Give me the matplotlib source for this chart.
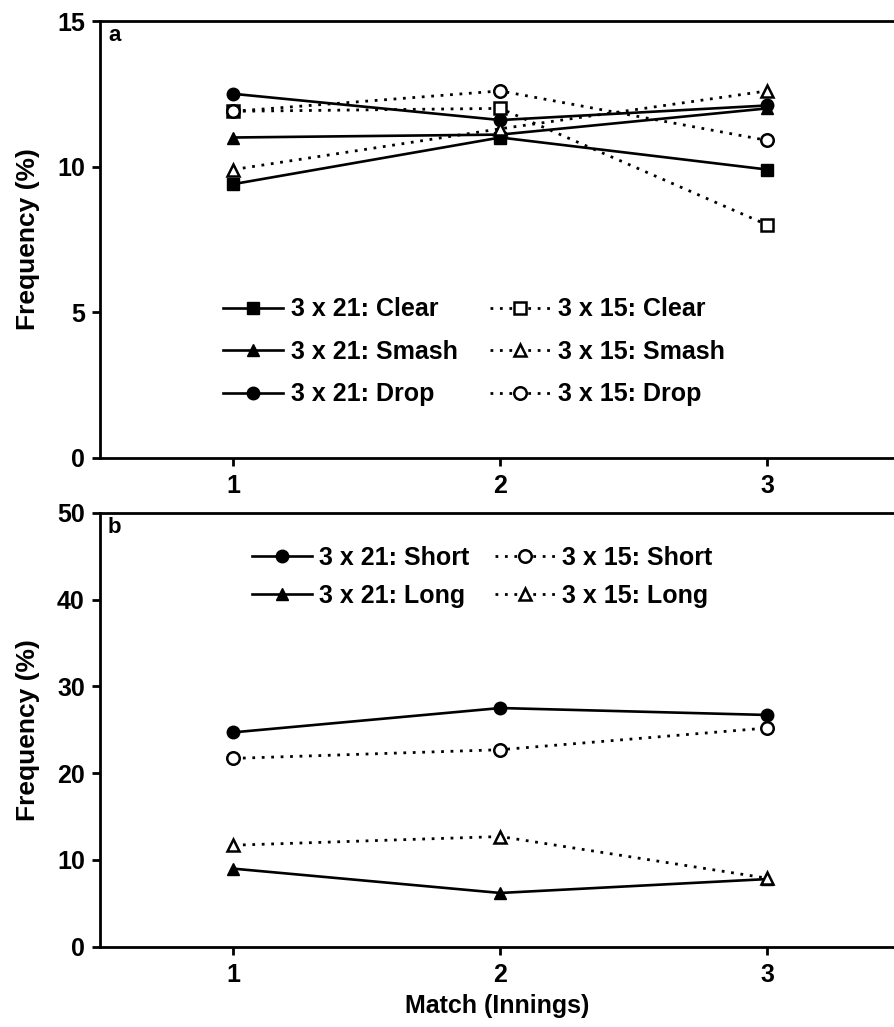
import matplotlib
matplotlib.use('Agg')
import matplotlib.pyplot as plt

plt.rcParams['font.family'] = ['Liberation Sans', 'DejaVu Sans']
plt.rcParams['font.weight'] = 'bold'

innings = [1, 2, 3]

# panel a - stroke types
clear_21 = [9.4, 11.0, 9.9]
smash_21 = [11.0, 11.1, 12.0]
drop_21 = [12.5, 11.6, 12.1]
clear_15 = [11.9, 12.0, 8.0]
smash_15 = [9.9, 11.3, 12.6]
drop_15 = [11.9, 12.6, 10.9]

# panel b - rally length
short_21 = [24.7, 27.5, 26.7]
long_21 = [9.0, 6.2, 7.8]
short_15 = [21.7, 22.7, 25.2]
long_15 = [11.7, 12.7, 7.9]

dotted = (0, (1, 2.4))

def solid(ax, y, m, lab):
    ax.plot(innings, y, '-', marker=m, color='black', lw=1.9, ms=9,
            mfc='black', mec='black', label=lab)

def dots(ax, y, m, lab):
    ax.plot(innings, y, linestyle=dotted, marker=m, color='black', lw=2.0, ms=9,
            mfc='white', mec='black', mew=1.8, label=lab)

def style(ax):
    ax.spines['right'].set_visible(False)
    for s in ['left', 'bottom', 'top']:
        ax.spines[s].set_linewidth(2)
    ax.tick_params(direction='out', length=6, width=2, labelsize=18, pad=5)
    ax.tick_params(axis='x', pad=6)
    ax.set_xlim(0.5, 3.475)
    ax.set_xticks(innings)
    ax.set_ylabel('Frequency (%)', fontsize=19, fontweight='bold', labelpad=12)
    for lab in ax.get_xticklabels() + ax.get_yticklabels():
        lab.set_fontweight('bold')

fig = plt.figure(figsize=(8.94, 10.27), dpi=100)
ax1 = fig.add_axes([0.1119, 0.5543, 0.888, 0.4252])
ax2 = fig.add_axes([0.1119, 0.0781, 0.888, 0.4227])

solid(ax1, clear_21, 's', '3 x 21: Clear')
solid(ax1, smash_21, '^', '3 x 21: Smash')
solid(ax1, drop_21, 'o', '3 x 21: Drop')
dots(ax1, clear_15, 's', '3 x 15: Clear')
dots(ax1, smash_15, '^', '3 x 15: Smash')
dots(ax1, drop_15, 'o', '3 x 15: Drop')
style(ax1)
ax1.set_ylim(0, 15)
ax1.set_yticks([0, 5, 10, 15])
ax1.text(0.01, 0.99, 'a', transform=ax1.transAxes, fontsize=16,
         fontweight='bold', va='top')
ax1.legend(loc='upper left', bbox_to_anchor=(0.127, 0.419), ncol=2, frameon=False,
           handlelength=2.4, handletextpad=0.3, columnspacing=1.3,
           labelspacing=0.74, prop={'weight': 'bold', 'size': 18})

solid(ax2, short_21, 'o', '3 x 21: Short')
solid(ax2, long_21, '^', '3 x 21: Long')
dots(ax2, short_15, 'o', '3 x 15: Short')
dots(ax2, long_15, '^', '3 x 15: Long')
style(ax2)
ax2.set_ylim(0, 50)
ax2.set_yticks([0, 10, 20, 30, 40, 50])
ax2.text(0.01, 0.99, 'b', transform=ax2.transAxes, fontsize=16,
         fontweight='bold', va='top')
ax2.legend(loc='upper left', bbox_to_anchor=(0.163, 0.976), ncol=2, frameon=False,
           handlelength=2.4, handletextpad=0.3, columnspacing=1.0,
           labelspacing=0.56, prop={'weight': 'bold', 'size': 18})
ax2.set_xlabel('Match (Innings)', fontsize=18, fontweight='bold', labelpad=5)

fig.savefig('out.png', dpi=100)
